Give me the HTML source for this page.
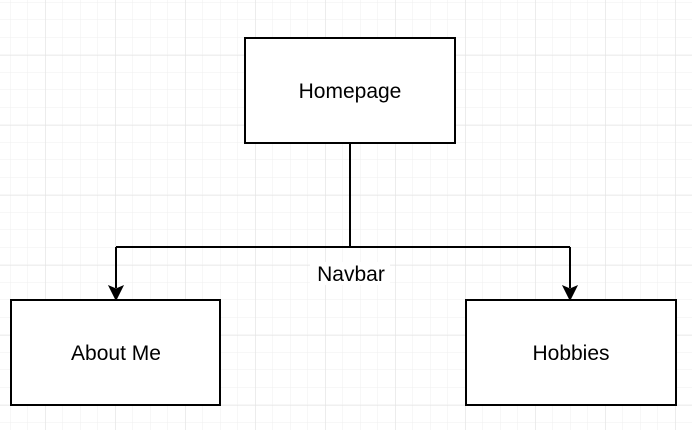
<!DOCTYPE html>
<html><head><style>body{margin:0;background:#fff}svg{display:block}</style></head>
<body>
<svg width="692" height="430" xmlns="http://www.w3.org/2000/svg">
<defs>
<pattern id="m" x="10" y="2" width="17.5" height="17.5" patternUnits="userSpaceOnUse">
<path d="M0 0V17.5M0 0H17.5" stroke="#efefef" stroke-width="1" fill="none"/>
</pattern>
<pattern id="M" x="45.3" y="55" width="70" height="70" patternUnits="userSpaceOnUse">
<path d="M0 0V70M0 0H70" stroke="#e2e2e2" stroke-width="1" fill="none"/>
</pattern>
</defs>
<rect width="692" height="430" fill="url(#m)"/>
<rect width="692" height="430" fill="url(#M)"/>
<g fill="#fff" stroke="#000" stroke-width="2">
<rect x="245" y="38" width="210" height="105"/>
<rect x="11" y="300" width="209" height="105"/>
<rect x="466" y="300" width="210" height="105"/>
</g>
<path d="M350 143V247M116 247H570M116 247V288M570 247V288" stroke="#000" stroke-width="2" fill="none"/>
<path d="M109 286L116 300L123 286L116 289Z M563 286L570 300L577 286L570 289Z" fill="#000" stroke="#000"/>
<g font-family="Liberation Sans, sans-serif" font-size="21" text-anchor="middle" fill="#000">
<text x="350" y="98">Homepage</text>
<text x="116" y="360">About Me</text>
<text x="571" y="360">Hobbies</text>
<rect x="310" y="262" width="80" height="23" fill="#fff"/>
<text x="351" y="281">Navbar</text>
</g>
</svg>
</body></html>
